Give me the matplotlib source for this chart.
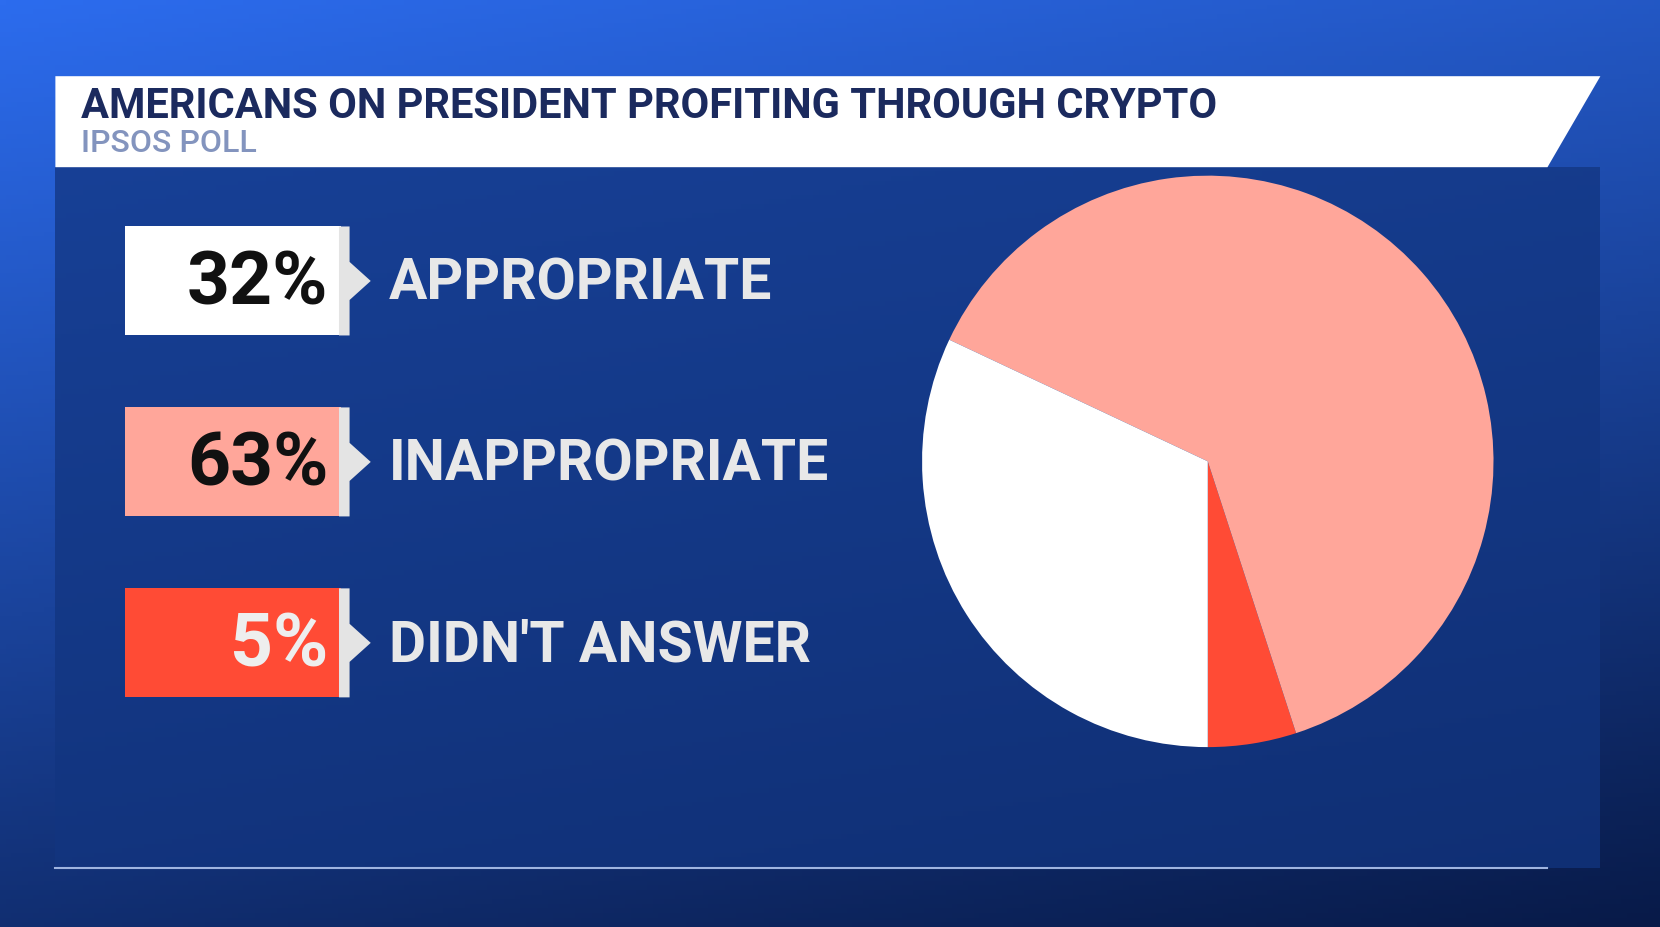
import numpy as np
import matplotlib
matplotlib.use("Agg")
import matplotlib.pyplot as plt
from matplotlib.patches import Polygon, Rectangle

title = "AMERICANS ON PRESIDENT PROFITING THROUGH CRYPTO"
subtitle = "IPSOS POLL"
labels = ["APPROPRIATE", "INAPPROPRIATE", "DIDN'T ANSWER"]
values = [32, 63, 5]
box_colors = ["#FFFFFF", "#FFA69A", "#FF4B35"]
num_colors = ["#111111", "#111111", "#EEEEEE"]

fam = ['Liberation Sans Narrow', 'Roboto', 'DejaVu Sans']
W, H = 1568, 876
fig = plt.figure(figsize=(16.6, 9.27), dpi=100)
ax = fig.add_axes([0, 0, 1, 1])

# background gradient
yy, xx = np.mgrid[0:1:200j, 0:1:300j]
t = np.clip(0.75 * yy + 0.25 * xx, 0, 1)
top = np.array([0x2C, 0x6C, 0xEE]) / 255
bot = np.array([0x08, 0x1A, 0x48]) / 255
img = top[None, None, :] * (1 - t[..., None]) + bot[None, None, :] * t[..., None]
ax.imshow(img, extent=[0, W, H, 0], aspect='auto', zorder=0)

# panel
ax.add_patch(Rectangle((52, 158), 1460, 662, color="#123580", alpha=0.75, zorder=1, lw=0))
ax.plot([52, 1462], [820, 820], color="#9FB4E0", lw=1.5, zorder=2)

# banner
ax.add_patch(Polygon([[52, 72], [1512, 72], [1462, 158], [52, 158]], closed=True, color="white", zorder=3, lw=0))
ax.text(76, 101, title, fontsize=30, fontweight='bold', color="#1B2A5E", family=fam, va='center', ha='left', zorder=4)
ax.text(76, 136, subtitle, fontsize=23, fontweight='medium', color="#8394BE", family=fam, va='center', ha='left', zorder=4)

# legend boxes
for i, (lab, v, bc, nc) in enumerate(zip(labels, values, box_colors, num_colors)):
    y0 = 214 + i * 171
    y1 = y0 + 103
    ym = (y0 + y1) / 2
    ax.add_patch(Rectangle((118, y0), 204, 103, color=bc, zorder=3, lw=0))
    ax.add_patch(Polygon([[320, y0], [330, y0], [330, ym - 18], [350, ym], [330, ym + 18], [330, y1], [320, y1]],
                         closed=True, color="#E4E4E4", zorder=3, lw=0))
    ax.text(310, ym + 3, f"{v}%", fontsize=54, fontweight='bold', color=nc, family=fam,
            ha='right', va='center', zorder=4)
    ax.text(367, ym + 3, lab, fontsize=41, fontweight='bold', color="#E8E8E8", family=fam,
            ha='left', va='center', zorder=4)

# pie: red, pink, white; y axis inverted so use clockwise from 90 to appear CCW from bottom
pie_vals = [values[2], values[1], values[0]]
pie_cols = [box_colors[2], box_colors[1], box_colors[0]]
ax.pie(pie_vals, colors=pie_cols, startangle=90, counterclock=False,
       center=(1141, 436), radius=270, frame=True, wedgeprops=dict(lw=0, zorder=5))
ax.set_aspect('equal')
ax.set_xlim(0, W); ax.set_ylim(H, 0); ax.axis('off')
fig.savefig("out.png", dpi=100)
